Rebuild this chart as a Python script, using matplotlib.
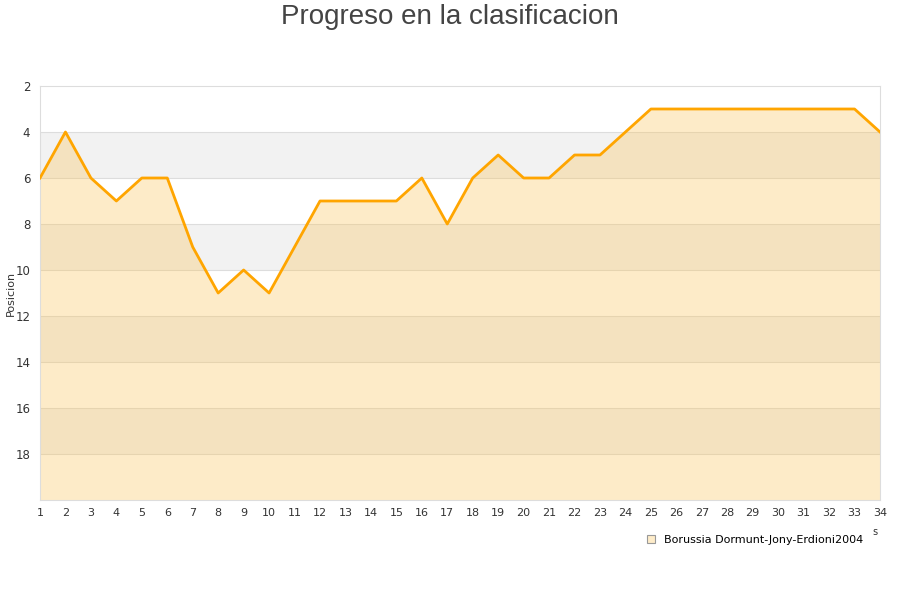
import numpy as np
import matplotlib
matplotlib.use("Agg")
import matplotlib.pyplot as plt
from matplotlib.lines import Line2D

# Jornadas y posicion del equipo
jornadas = list(range(1, 35))
posicion = [6, 4, 6, 7, 6, 6, 9, 11, 10, 11, 9, 7, 7, 7, 7, 6, 8, 6, 5, 6,
            6, 5, 5, 4, 3, 3, 3, 3, 3, 3, 3, 3, 3, 4]
y_ticks = [2, 4, 6, 8, 10, 12, 14, 16, 18]
equipo = "Borussia Dormunt-Jony-Erdioni2004"

line_color = "#ffa500"
fill_color = "#fbc04b"

fig = plt.figure(figsize=(9, 6), dpi=100)
ax = fig.add_axes([40 / 900, 100 / 600, 840 / 900, 414 / 600])

# bandas alternas de fondo
for lo in range(4, 20, 4):
    ax.axhspan(lo, lo + 2, color="#f2f2f2", zorder=0, lw=0)
for yv in range(4, 20, 2):
    ax.axhline(yv, color="#dddddd", lw=0.8, zorder=0.5)

ax.fill_between(jornadas, posicion, 20, color=fill_color, alpha=0.3,
                lw=0, zorder=1)
ax.plot(jornadas, posicion, color=line_color, lw=2.0, zorder=3)

ax.set_xlim(1, 34)
ax.set_ylim(20, 2)
ax.set_xticks(jornadas)
ax.set_yticks(y_ticks)
ax.tick_params(axis="both", length=0, labelsize=8, colors="#333333")
ax.tick_params(axis="x", pad=6)
ax.tick_params(axis="y", pad=7, labelsize=8.5)
for sp in ax.spines.values():
    sp.set_color("#dddddd")
    sp.set_linewidth(0.8)

ax.set_ylabel("Posicion", fontsize=8, color="#333333")
ax.yaxis.set_label_coords(-24 / 840, 0.5)

fig.text(0.5, 0.972, "Progreso en la clasificacion", ha="center", va="center",
         fontsize=20, color="#444444", family="Liberation Sans")

handle = Line2D([], [], marker="s", ls="none", markersize=6,
                markerfacecolor="#feecc9", markeredgecolor="#999999",
                markeredgewidth=0.8)
fig.legend([handle], [equipo], loc="center left",
           bbox_to_anchor=(634 / 900, 1 - 540 / 600), frameon=False,
           fontsize=8, handletextpad=0.6, handlelength=1.2)
fig.text(875 / 900, 1 - 532 / 600, "s", fontsize=7, color="#333333",
         ha="center", va="center")

fig.savefig("out.png", dpi=100)
